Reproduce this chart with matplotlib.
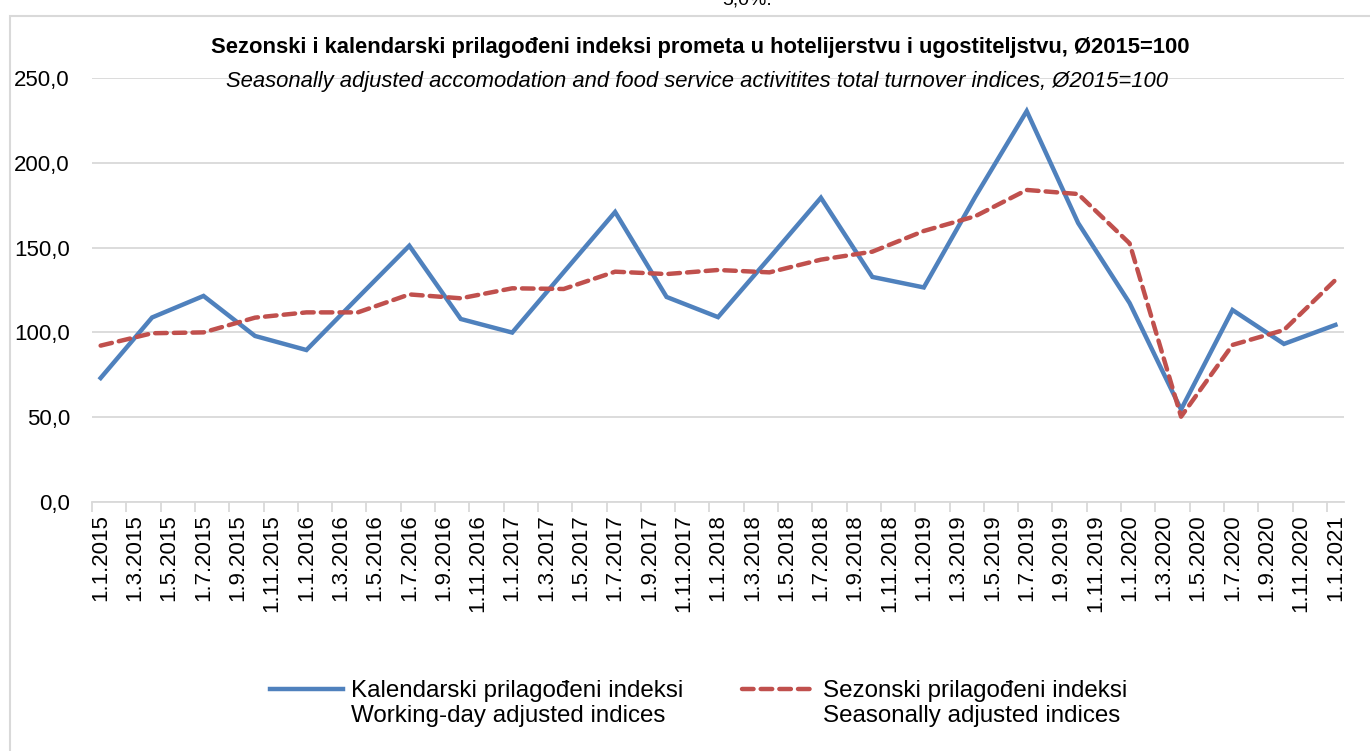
import numpy as np
import matplotlib
matplotlib.use("Agg")
import matplotlib.pyplot as plt
from matplotlib.patches import Rectangle
from matplotlib.legend_handler import HandlerLine2D

plt.rcParams['font.family'] = ['Liberation Sans', 'DejaVu Sans']

# quarterly observations, 1.1.2015 .. 1.1.2021
years = list(range(2015, 2022))
quarter_months = [1, 4, 7, 10]

working_day = [73.1, 108.8, 121.5, 97.9, 89.6, 120.5, 151.1, 107.9,
               99.9, 135.5, 171.0, 120.9, 109.0, 144.0, 179.4, 132.7,
               126.5, 180.0, 230.5, 164.5, 117.3, 54.5, 113.2, 93.2, 104.4]
seasonal = [92.2, 99.5, 100.0, 108.7, 111.8, 111.8, 122.4, 120.1,
            126.0, 125.6, 135.8, 134.4, 136.8, 135.4, 142.9, 147.6,
            159.8, 168.5, 184.0, 181.6, 152.5, 50.3, 92.6, 101.4, 130.9]

label_blue = "Kalendarski prilagođeni indeksi\nWorking-day adjusted indices"
label_red = "Sezonski prilagođeni indeksi\nSeasonally adjusted indices"
title = "Sezonski i kalendarski prilagođeni indeksi prometa u hotelijerstvu i ugostiteljstvu, Ø2015=100"
subtitle = "Seasonally adjusted accomodation and food service activitites total turnover indices, Ø2015=100"

# month index from January 2015
dates = [(y, m) for y in years for m in quarter_months][:len(working_day)]
x = np.array([(y - 2015) * 12 + (m - 1) for y, m in dates])

n_months = 73
label_pos = np.arange(0, n_months, 2)
tick_labels = ["1.%d.%d" % (k % 12 + 1, 2015 + k // 12) for k in label_pos]
yvals = np.arange(0, 251, 50)


class TopLineHandler(HandlerLine2D):
    # put the legend line at the first line of a two line label
    def create_artists(self, legend, orig_handle, xdescent, ydescent,
                       width, height, fontsize, trans):
        arts = super().create_artists(legend, orig_handle, xdescent, ydescent,
                                      width, height, fontsize, trans)
        for a in arts:
            a.set_ydata(np.asarray(a.get_ydata()) + 0.6 * fontsize)
        return arts


fig = plt.figure(figsize=(13.7, 7.51), dpi=100)
ax = fig.add_axes([0.0672, 0.3316, 0.9138, 0.5645])

l1, = ax.plot(x, working_day, color='#4f81bd', lw=3.2, solid_joinstyle='miter',
              label=label_blue, zorder=3)
l2, = ax.plot(x, seasonal, color='#c0504d', lw=3.2, dashes=(2.6, 1.6),
              dash_capstyle='round', label=label_red, zorder=4)

ax.set_xlim(-0.5, n_months - 0.5)
ax.set_ylim(0, 250)
ax.set_yticks(yvals)
ax.set_yticklabels([("%.1f" % v).replace('.', ',') for v in yvals], fontsize=16)
ax.yaxis.set_tick_params(length=0, pad=16)
ax.grid(axis='y', color='#d9d9d9', lw=1.3)
ax.set_axisbelow(True)

ax.set_xticks(np.arange(-0.5, n_months - 1, 2))
ax.set_xticklabels([])
ax.tick_params(axis='x', which='major', length=7, color='#d9d9d9', width=1.3)
ax.set_xticks(label_pos, minor=True)
ax.set_xticklabels(tick_labels, minor=True, rotation=90, fontsize=16)
ax.tick_params(axis='x', which='minor', length=0, pad=9)

for s in ['top', 'right', 'left']:
    ax.spines[s].set_visible(False)
ax.spines['bottom'].set_color('#d9d9d9')
ax.spines['bottom'].set_linewidth(1.3)

# chart frame and text
fig.patches.append(Rectangle((10 / 1370, -0.1), 1.2, 1.1 - 16 / 751,
                             transform=fig.transFigure, fill=False,
                             edgecolor='#d9d9d9', lw=1.5))
fig.text(0.545, 1.0, "5,0%.", ha='center', va='center', fontsize=14)
fig.text(0.511, 0.937, title, ha='center', va='center', fontsize=15.8,
         fontweight='bold')
fig.text(0.509, 0.892, subtitle, ha='center', va='center', fontsize=15.8,
         style='italic')

fig.legend(handles=[l1, l2], loc='center', bbox_to_anchor=(0.51, 0.063),
           ncol=2, frameon=False, fontsize=17.4, handlelength=3.0,
           handletextpad=0.33, columnspacing=2.45, labelspacing=0.3,
           handler_map={l1: TopLineHandler(), l2: TopLineHandler()})

fig.savefig("out.png", dpi=100)
